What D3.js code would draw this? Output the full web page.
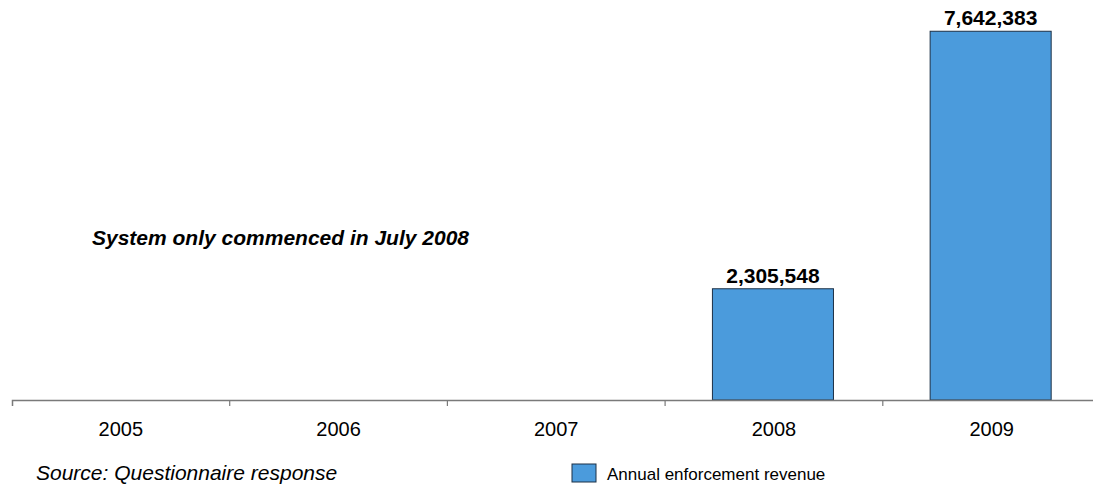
<!DOCTYPE html>
<html>
<head>
<meta charset="utf-8">
<script src="https://cdn.jsdelivr.net/npm/d3@7"></script>
<style>
  html, body { margin: 0; padding: 0; background: #fff; }
  svg { display: block; font-family: "Liberation Sans", Arial, Helvetica, sans-serif; }
</style>
</head>
<body>
<svg id="chart" width="1093" height="489"></svg>
<script>
// Annual enforcement revenue by year
const years = ["2005", "2006", "2007", "2008", "2009"];
const revenue = [null, null, null, 2305548, 7642383];
const seriesName = "Annual enforcement revenue";
const note = "System only commenced in July 2008";
const source = "Source: Questionnaire response";

const svg = d3.select("#chart");
const baseY = 400;

const x = d3.scaleBand().domain(years).range([12, 1100.5]).padding(0);
const xBar = d3.scaleBand().domain(years).range([12, 1100.5])
  .paddingInner(0.444).paddingOuter(0.222);
const y = d3.scaleLinear().domain([0, 8000000]).range([baseY, 14]);

const data = years.map((yr, i) => ({ year: yr, value: revenue[i] }));
const fmt = d3.format(",");

// bars
svg.append("g").selectAll("rect")
  .data(data.filter(d => d.value != null))
  .join("rect")
  .attr("x", d => xBar(d.year) - 1)
  .attr("y", d => y(d.value))
  .attr("width", xBar.bandwidth())
  .attr("height", d => baseY - y(d.value))
  .attr("fill", "#4b9bdc")
  .attr("stroke", "#1c3046")
  .attr("stroke-width", 1);

// value labels
svg.append("g").selectAll("text")
  .data(data.filter(d => d.value != null))
  .join("text")
  .attr("x", d => xBar(d.year) - 1 + xBar.bandwidth() / 2)
  .attr("y", d => y(d.value) - 6)
  .attr("text-anchor", "middle")
  .attr("font-size", 21)
  .attr("font-weight", "bold")
  .attr("fill", "#000")
  .text(d => fmt(d.value));

// category axis
const axis = svg.append("g").attr("transform", `translate(0,${baseY})`)
  .call(d3.axisBottom(x).tickSizeInner(0).tickSizeOuter(6).tickPadding(22));
axis.select(".domain").attr("stroke", "#7a7a7a").attr("stroke-width", 1.5);
axis.selectAll(".tick text")
  .attr("font-size", 20)
  .attr("font-family", "'Liberation Sans', Arial, sans-serif")
  .attr("fill", "#000");

// separators between categories
axis.append("g").selectAll("line")
  .data(years.slice(1))
  .join("line")
  .attr("x1", d => x(d)).attr("x2", d => x(d))
  .attr("y1", 0).attr("y2", 6)
  .attr("stroke", "#7a7a7a").attr("stroke-width", 1.2);

// annotation
svg.append("text")
  .attr("x", 92).attr("y", 245)
  .attr("font-size", 21)
  .attr("font-weight", "bold")
  .attr("font-style", "italic")
  .attr("fill", "#000")
  .text(note);

// source note
svg.append("text")
  .attr("x", 36).attr("y", 480)
  .attr("font-size", 21)
  .attr("font-style", "italic")
  .attr("fill", "#000")
  .text(source);

// legend
const lg = svg.append("g").attr("transform", "translate(572,464)");
lg.append("rect")
  .attr("width", 24).attr("height", 18)
  .attr("fill", "#4b9bdc").attr("stroke", "#1c3046").attr("stroke-width", 1);
lg.append("text")
  .attr("x", 35).attr("y", 16)
  .attr("font-size", 17)
  .attr("fill", "#000")
  .text(seriesName);
</script>
</body>
</html>
